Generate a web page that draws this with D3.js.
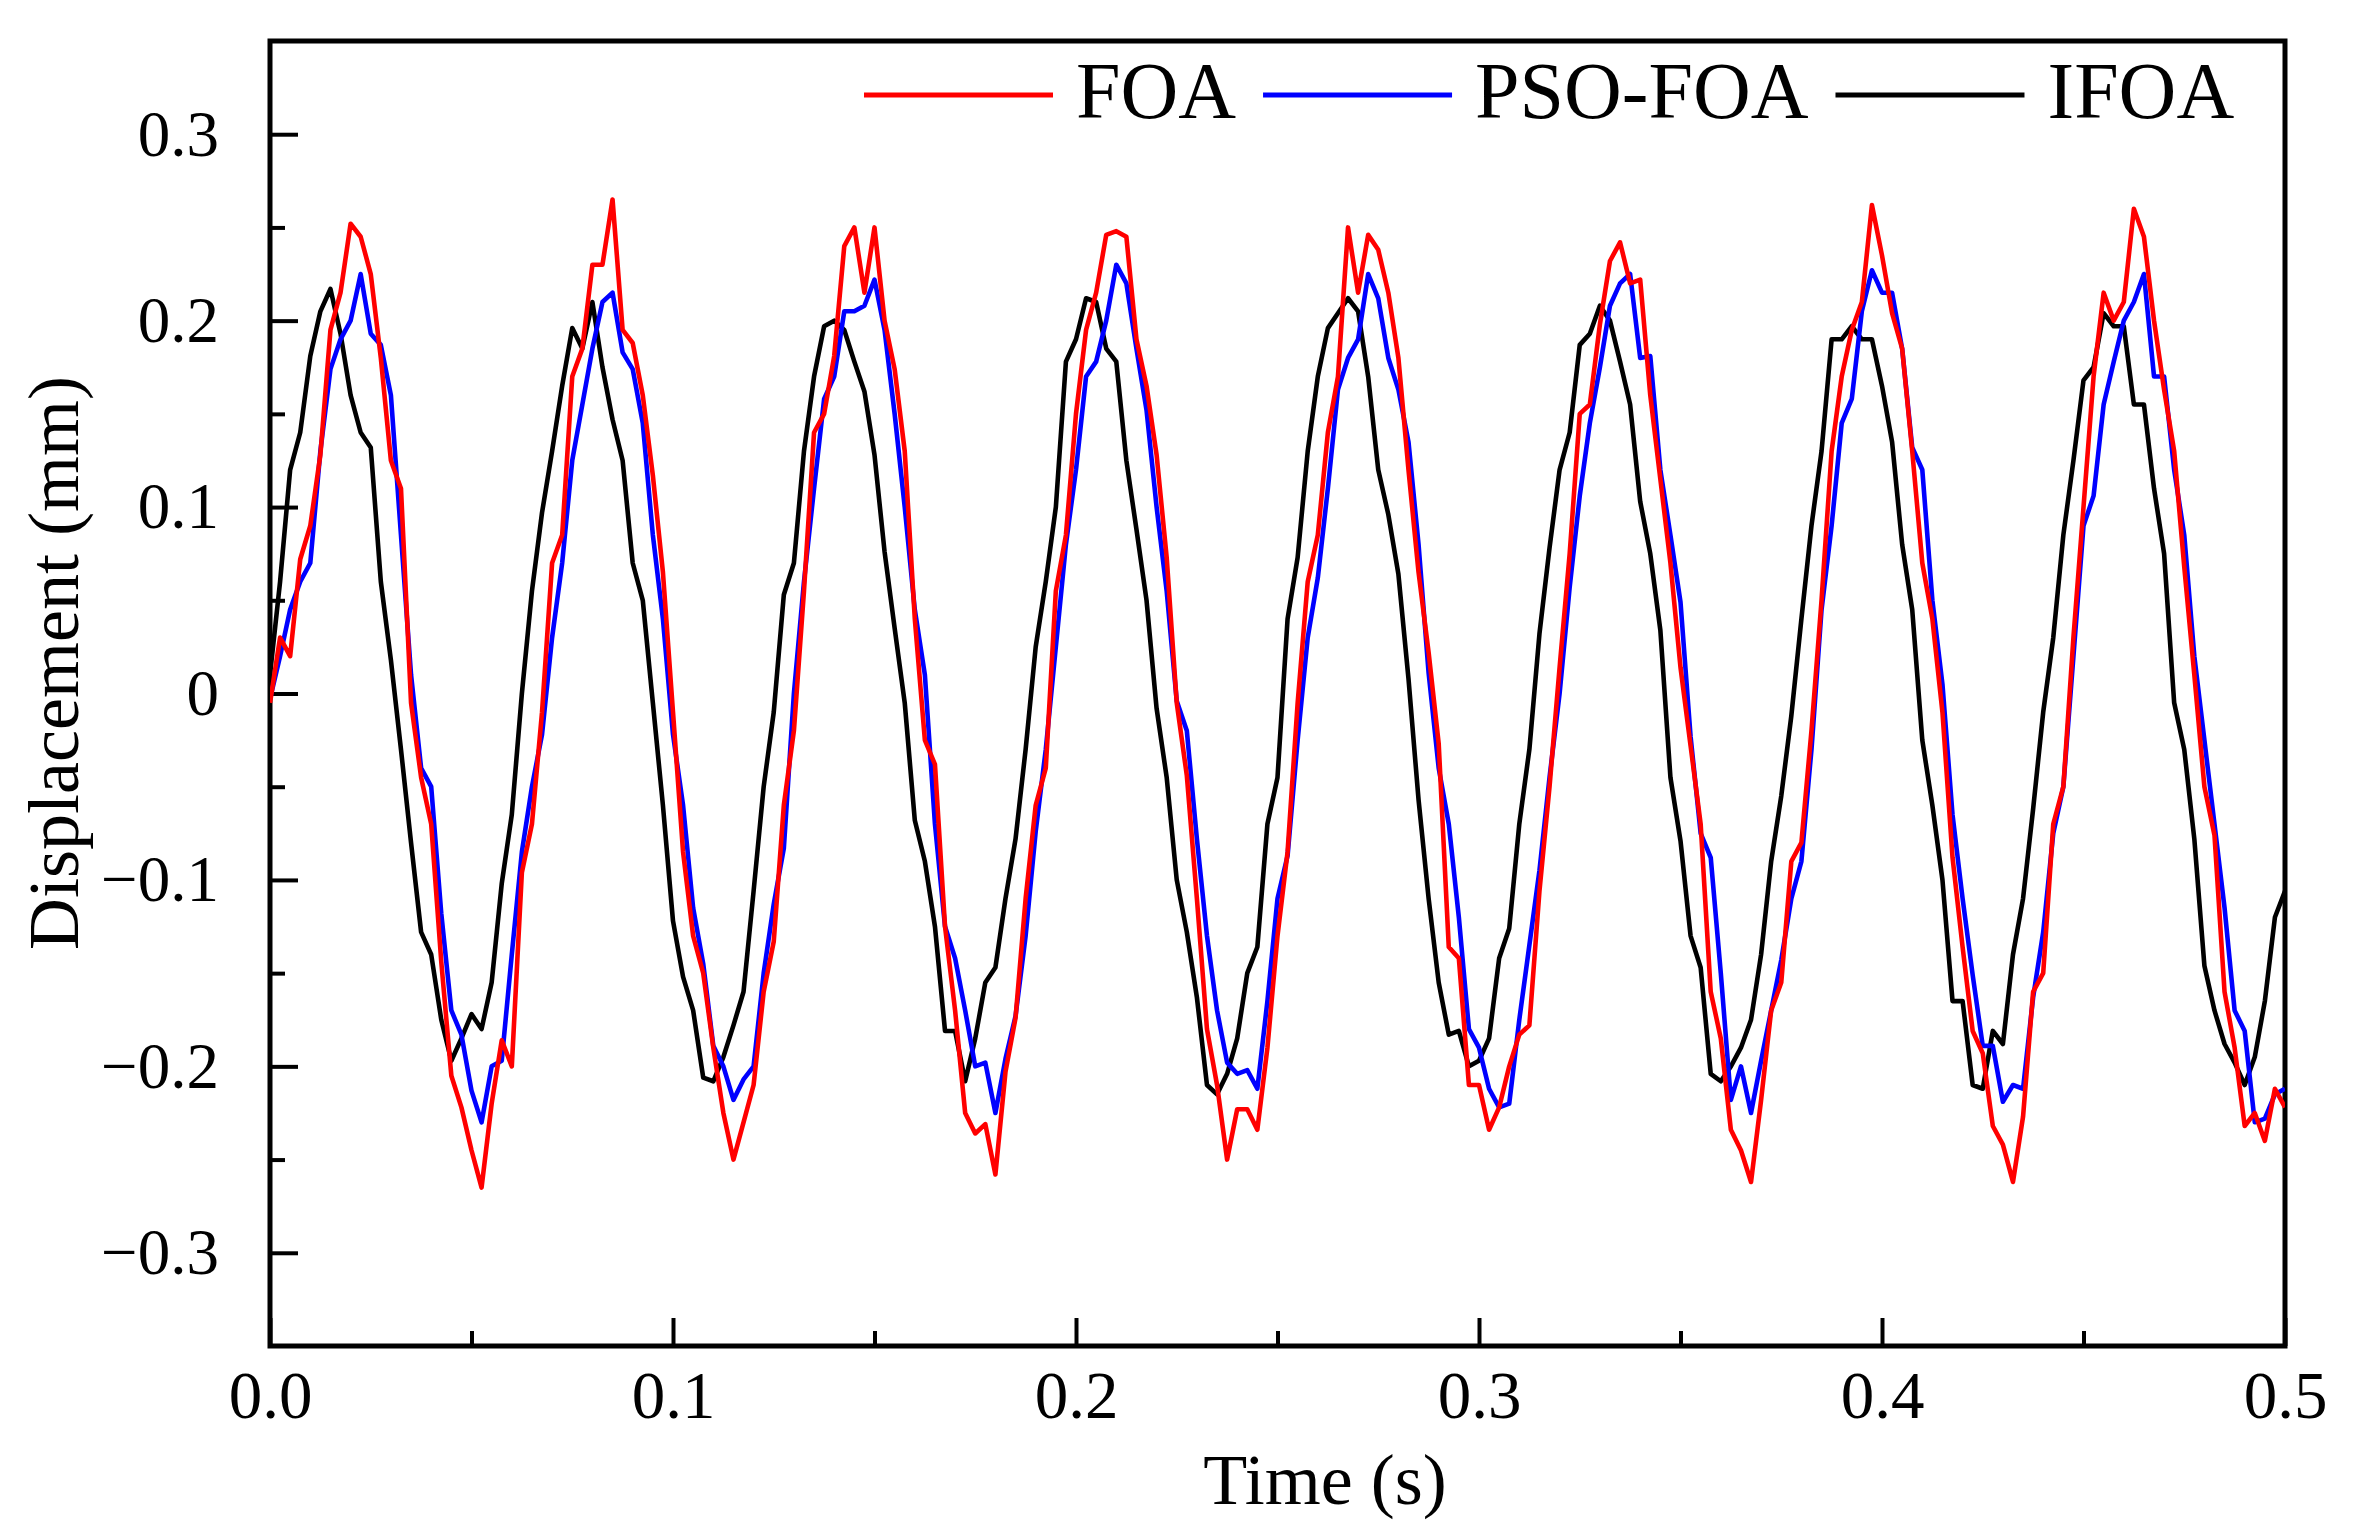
<!DOCTYPE html>
<html>
<head>
<meta charset="utf-8">
<script src="https://cdn.jsdelivr.net/npm/d3@7"></script>
<style>
  body { margin: 0; background: #fff; }
  text { font-family: "Liberation Serif", "Times New Roman", serif; fill: #000; }
</style>
</head>
<body>
<div id="js_chart"></div>
<script>

// Sampling step of the curves (s)
const timeStep = 0.0025;

// Displacement (mm), one value every timeStep
const foa = [
    -0.005, 0.03, 0.02, 0.072, 0.09, 0.128, 0.195, 0.215, 0.252, 0.245, 0.225, 0.18, 0.125, 0.11, -0.005, -0.045, -0.07, -0.144, -0.205, -0.222, -0.245, -0.265, -0.22, -0.186, -0.2, -0.096, -0.07, -0.01, 0.07, 0.085, 0.17, 0.185, 0.23, 0.23, 0.265, 0.195, 0.188, 0.16, 0.117, 0.065, -0.01, -0.085, -0.13, -0.15, -0.19, -0.225, -0.25, -0.23, -0.21, -0.16, -0.133,
    -0.06, -0.02, 0.055, 0.14, 0.15, 0.181, 0.24, 0.25, 0.215, 0.25, 0.2, 0.174, 0.13, 0.04, -0.025, -0.038, -0.125, -0.17, -0.225, -0.236, -0.231, -0.258, -0.203, -0.174, -0.11, -0.06, -0.04, 0.055, 0.085, 0.15, 0.195, 0.215, 0.246, 0.248, 0.245, 0.19, 0.165, 0.128, 0.073, -0.005, -0.044, -0.11, -0.18, -0.21, -0.25, -0.223, -0.223, -0.234, -0.19, -0.13,
    -0.085, -0.005, 0.06, 0.085, 0.14, 0.17, 0.25, 0.215, 0.246, 0.238, 0.215, 0.18, 0.12, 0.065, 0.022, -0.027, -0.136, -0.142, -0.21, -0.21, -0.234, -0.222, -0.2, -0.183, -0.178, -0.106, -0.05, 0.014, 0.075, 0.15, 0.155, 0.198, 0.232, 0.242, 0.22, 0.222, 0.16, 0.115, 0.07, 0.014, -0.028, -0.07, -0.16, -0.185, -0.234, -0.245, -0.262, -0.218, -0.17, -0.155,
    -0.09, -0.08, -0.02, 0.05, 0.13, 0.17, 0.195, 0.21, 0.262, 0.235, 0.204, 0.185, 0.13, 0.07, 0.04, -0.01, -0.088, -0.136, -0.181, -0.193, -0.232, -0.242, -0.262, -0.227, -0.16, -0.15, -0.07, -0.05, 0.03, 0.1, 0.17, 0.215, 0.2, 0.21, 0.26, 0.245, 0.2, 0.163, 0.13, 0.068, 0.01, -0.05, -0.076, -0.16, -0.19, -0.232, -0.225, -0.24, -0.212, -0.222
];

const psoFoa = [
    -0.003, 0.02, 0.045, 0.06, 0.07, 0.13, 0.174, 0.19, 0.2, 0.225, 0.193, 0.187, 0.16, 0.085, 0.01, -0.04, -0.05, -0.118, -0.17, -0.183, -0.213, -0.23, -0.2, -0.197, -0.14, -0.085, -0.05, -0.022, 0.03, 0.07, 0.125, 0.155, 0.185, 0.21, 0.215, 0.183, 0.174, 0.145, 0.085, 0.04, -0.022, -0.06, -0.115, -0.145, -0.189, -0.2, -0.218, -0.207, -0.2, -0.15, -0.113,
    -0.083, 0.0, 0.06, 0.11, 0.158, 0.17, 0.205, 0.205, 0.208, 0.222, 0.195, 0.15, 0.1, 0.045, 0.01, -0.07, -0.125, -0.142, -0.17, -0.2, -0.198, -0.225, -0.196, -0.173, -0.13, -0.074, -0.03, 0.025, 0.08, 0.12, 0.17, 0.178, 0.2, 0.23, 0.22, 0.185, 0.152, 0.1, 0.055, -0.004, -0.02, -0.078, -0.13, -0.17, -0.198, -0.204, -0.202, -0.212, -0.165, -0.11,
    -0.087, -0.025, 0.03, 0.062, 0.11, 0.163, 0.18, 0.19, 0.225, 0.212, 0.18, 0.163, 0.135, 0.08, 0.011, -0.04, -0.07, -0.12, -0.18, -0.19, -0.212, -0.222, -0.22, -0.175, -0.135, -0.095, -0.045, 0.0, 0.057, 0.106, 0.145, 0.175, 0.208, 0.22, 0.225, 0.18, 0.181, 0.12, 0.085, 0.049, -0.023, -0.075, -0.088, -0.15, -0.218, -0.2, -0.225, -0.197, -0.17, -0.143,
    -0.11, -0.09, -0.03, 0.045, 0.09, 0.145, 0.158, 0.205, 0.227, 0.215, 0.215, 0.185, 0.132, 0.12, 0.05, 0.005, -0.065, -0.11, -0.151, -0.189, -0.189, -0.219, -0.21, -0.212, -0.163, -0.128, -0.075, -0.05, 0.02, 0.09, 0.106, 0.155, 0.178, 0.2, 0.21, 0.225, 0.17, 0.17, 0.12, 0.085, 0.02, -0.025, -0.07, -0.115, -0.17, -0.181, -0.23, -0.228, -0.215, -0.212
];

const ifoa = [
    0.01, 0.06, 0.12, 0.14, 0.181, 0.205, 0.217, 0.193, 0.16, 0.14, 0.132, 0.06, 0.018, -0.03, -0.08, -0.128, -0.14, -0.175, -0.197, -0.185, -0.172, -0.18, -0.155, -0.102, -0.065, 0.0, 0.055, 0.097, 0.13, 0.165, 0.196, 0.185, 0.21, 0.175, 0.147, 0.125, 0.07, 0.05, -0.005, -0.06, -0.122, -0.152, -0.17, -0.206, -0.208, -0.195, -0.178, -0.16, -0.106, -0.05, -0.01,
    0.053, 0.07, 0.13, 0.17, 0.197, 0.2, 0.195, 0.178, 0.162, 0.128, 0.076, 0.035, -0.005, -0.068, -0.09, -0.125, -0.181, -0.181, -0.208, -0.185, -0.155, -0.147, -0.11, -0.078, -0.03, 0.025, 0.06, 0.1, 0.178, 0.19, 0.212, 0.21, 0.185, 0.178, 0.125, 0.088, 0.05, -0.008, -0.045, -0.1, -0.128, -0.163, -0.21, -0.215, -0.204, -0.185, -0.15, -0.136, -0.07, -0.045,
    0.04, 0.073, 0.13, 0.17, 0.196, 0.204, 0.212, 0.205, 0.17, 0.12, 0.096, 0.064, 0.008, -0.057, -0.11, -0.155, -0.183, -0.181, -0.2, -0.197, -0.185, -0.142, -0.126, -0.07, -0.03, 0.032, 0.078, 0.12, 0.14, 0.187, 0.193, 0.208, 0.2, 0.178, 0.155, 0.103, 0.075, 0.034, -0.045, -0.079, -0.13, -0.147, -0.204, -0.208, -0.2, -0.19, -0.175, -0.14, -0.09, -0.055,
    -0.012, 0.04, 0.09, 0.13, 0.19, 0.19, 0.197, 0.19, 0.19, 0.165, 0.135, 0.08, 0.045, -0.025, -0.06, -0.1, -0.165, -0.165, -0.21, -0.212, -0.181, -0.188, -0.14, -0.11, -0.062, -0.01, 0.03, 0.085, 0.125, 0.168, 0.175, 0.204, 0.197, 0.197, 0.155, 0.155, 0.11, 0.075, -0.005, -0.03, -0.078, -0.146, -0.17, -0.188, -0.198, -0.21, -0.195, -0.165, -0.12, -0.106
];

const seriesNames = ["FOA", "PSO-FOA", "IFOA"];
const seriesColors = ["#ff0000", "#0000ff", "#000000"];

const xTicks = [0, 0.1, 0.2, 0.3, 0.4, 0.5];
const xTickLabels = ["0.0", "0.1", "0.2", "0.3", "0.4", "0.5"];
const xMinorTicks = [0.05, 0.15, 0.25, 0.35, 0.45];

const yTicks = [-0.3, -0.2, -0.1, 0, 0.1, 0.2, 0.3];
const yTickLabels = ["\u22120.3", "\u22120.2", "\u22120.1", "0", "0.1", "0.2", "0.3"];
const yMinorTicks = [-0.25, -0.15, -0.05, 0.05, 0.15, 0.25];

createPlot();

function createPlot() {
    let W = 2357, H = 1535;
    let margin = {top: 41, right: 72, bottom: 189, left: 270},
        width = W - margin.left - margin.right,
        height = H - margin.top - margin.bottom;

    let x = d3.scaleLinear().domain([0, 0.5]).range([0, width]);
    let y = d3.scaleLinear().domain([-0.35, 0.35]).range([height, 0]);

    let svg = d3.select("#js_chart")
        .append("svg")
        .attr("width", W)
        .attr("height", H)
        .style("background", "#fff");

    let g = svg.append("g")
        .attr("transform", "translate(" + margin.left + "," + margin.top + ")");

    svg.append("clipPath").attr("id", "plotClip")
        .append("rect")
        .attr("x", margin.left).attr("y", margin.top)
        .attr("width", width).attr("height", height);

    // Curves (black under blue under red)
    let line = d3.line()
        .x(function(d, i) { return x(i * timeStep); })
        .y(function(d) { return y(d); });

    let plot = svg.append("g")
        .attr("clip-path", "url(#plotClip)")
        .append("g")
        .attr("transform", "translate(" + margin.left + "," + margin.top + ")");

    [ifoa, psoFoa, foa].forEach(function(values, k) {
        plot.append("path")
            .datum(values)
            .attr("d", line)
            .attr("fill", "none")
            .attr("stroke", seriesColors[2 - k])
            .attr("stroke-width", 4.6)
            .attr("stroke-linejoin", "round");
    });

    // Axes, ticks pointing inward
    let xAxis = g.append("g")
        .attr("transform", "translate(0," + height + ")")
        .call(d3.axisBottom(x)
            .tickValues(xTicks)
            .tickSize(-28)
            .tickPadding(24)
            .tickFormat(function(d, i) { return xTickLabels[i]; }));

    g.append("g")
        .attr("transform", "translate(0," + height + ")")
        .call(d3.axisBottom(x).tickValues(xMinorTicks).tickSize(-15).tickFormat(""));

    let yAxis = g.append("g")
        .call(d3.axisLeft(y)
            .tickValues(yTicks)
            .tickSize(-28)
            .tickPadding(51)
            .tickFormat(function(d, i) { return yTickLabels[i]; }));

    g.append("g")
        .call(d3.axisLeft(y).tickValues(yMinorTicks).tickSize(-15).tickFormat(""));

    g.selectAll(".domain").remove();
    g.selectAll(".tick line").attr("stroke", "#000").attr("stroke-width", 4);
    g.selectAll(".tick text")
        .attr("font-family", "'Liberation Serif', 'Times New Roman', serif")
        .attr("fill", "#000");
    xAxis.selectAll(".tick text").attr("font-size", 67);
    yAxis.selectAll(".tick text").attr("font-size", 65);

    // Frame
    g.append("rect")
        .attr("width", width)
        .attr("height", height)
        .attr("fill", "none")
        .attr("stroke", "#000")
        .attr("stroke-width", 5);

    // Axis titles
    svg.append("text")
        .attr("x", 1325)
        .attr("y", 1504)
        .attr("text-anchor", "middle")
        .attr("font-size", 72)
        .text("Time (s)");

    svg.append("text")
        .attr("transform", "translate(78,663) rotate(-90)")
        .attr("text-anchor", "middle")
        .attr("font-size", 72)
        .text("Displacement (mm)");

    // Legend
    let legend = svg.append("g").attr("transform", "translate(864,95)");
    let cx = 0;
    seriesNames.forEach(function(name, i) {
        legend.append("line")
            .attr("x1", cx).attr("x2", cx + 189)
            .attr("y1", 0).attr("y2", 0)
            .attr("stroke", seriesColors[i])
            .attr("stroke-width", 5);
        let t = legend.append("text")
            .attr("x", cx + 212)
            .attr("y", 23)
            .attr("font-size", 80)
            .text(name);
        cx += 212 + t.node().getComputedTextLength() + 27;
    });
}

</script>
</body>
</html>
